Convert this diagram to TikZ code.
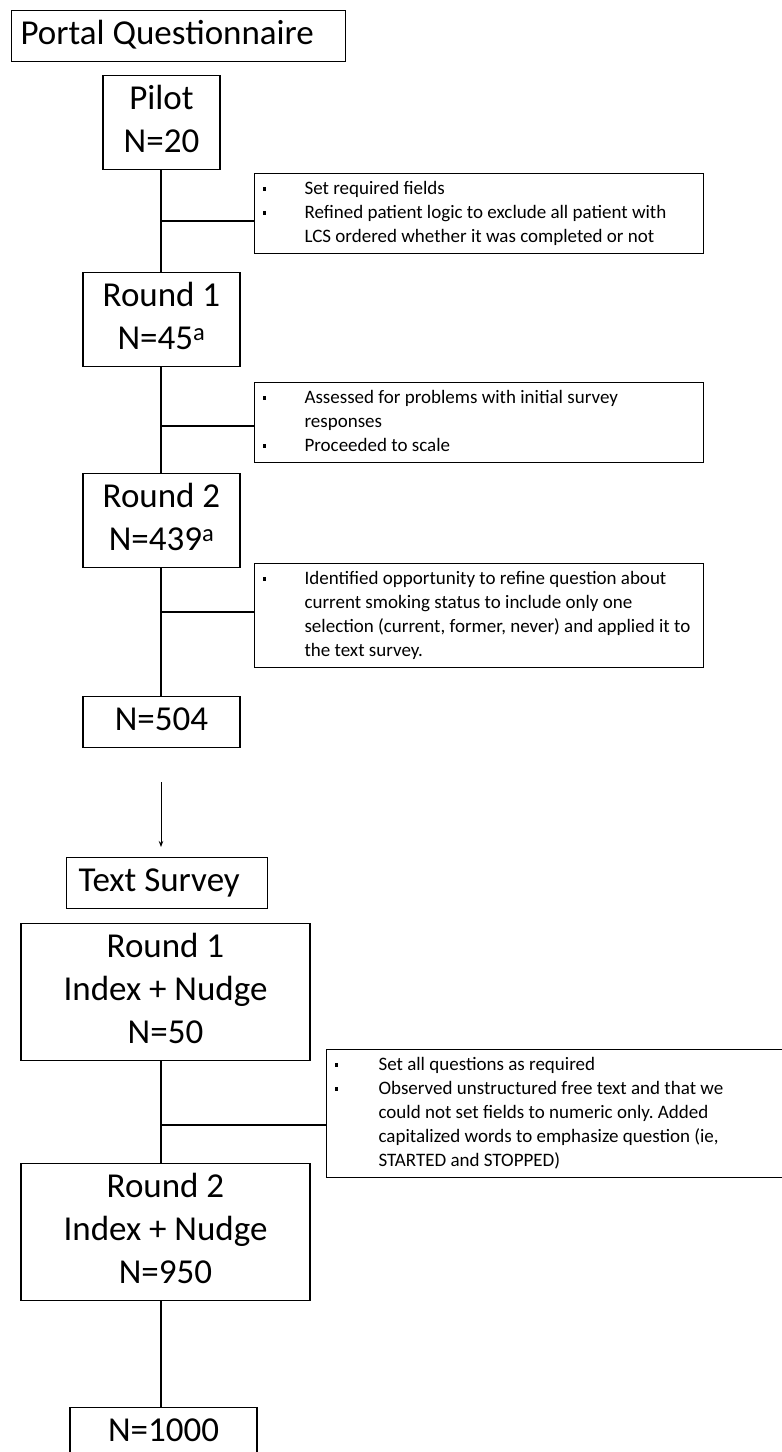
\documentclass[tikz,border=0pt]{standalone}
\usepackage{fontspec}
\setmainfont{Carlito}
\usetikzlibrary{arrows.meta}
\frenchspacing
\newcommand{\bul}{\hspace*{8pt}\raisebox{0.2em}{\rule{3.2pt}{3.2pt}}}
\newcommand{\bigfnt}{\fontsize{35}{43}\selectfont}
\newcommand{\smallfnt}{\fontsize{19}{24}\selectfont\frenchspacing}
\newcommand{\notebody}[3]{\makebox[#1][l]{\begin{tabular}{@{}p{#2}@{}l@{}}#3\end{tabular}}}
\begin{document}
\begin{tikzpicture}[x=1pt,y=-1pt,
  box/.style={draw, line width=1.1pt, inner xsep=0pt, inner ysep=4pt, font=\bigfnt, align=center, anchor=north},
  titlebox/.style={draw, line width=1.1pt, inner xsep=0pt, inner ysep=4pt, font=\bigfnt, anchor=north west},
  notebox/.style={draw, line width=1.1pt, inner xsep=0pt, inner ysep=4pt, font=\smallfnt, anchor=north west},
  conn/.style={line width=1.1pt},
  arr/.style={line width=0.9pt, -{Stealth[length=6pt,width=4.5pt]}}]
\useasboundingbox (0,0) rectangle (782,1452);

% titles
\node[titlebox] (portal) at (11,10) {\makebox[334pt][l]{\hspace*{9pt}\strut Portal Questionnaire}};
\node[titlebox] (text) at (66,857) {\makebox[201pt][l]{\hspace*{12pt}\strut Text Survey}};

% portal boxes
\node[box, minimum width=117pt] (pilot) at (161.5,75) {\strut Pilot\\\strut N=20};
\node[box, minimum width=157pt] (r1) at (161.5,272) {\strut Round 1\\\strut N=45\textsuperscript{a}};
\node[box, minimum width=157pt] (r2) at (161.5,473) {\strut Round 2\\\strut N=439\textsuperscript{a}};
\node[box, minimum width=157pt] (n504) at (161.5,696) {\strut N=504};

% text survey boxes
\node[box, minimum width=289pt] (t1) at (165.5,923) {\strut Round 1\\\strut Index + Nudge\\\strut N=50};
\node[box, minimum width=289pt] (t2) at (165.5,1163) {\strut Round 2\\\strut Index + Nudge\\\strut N=950};
\node[box, minimum width=187pt] (n1000) at (163.5,1407) {\strut N=1000};

% notes
\node[notebox] (note1) at (254,173) {\notebody{449pt}{50pt}{%
\bul & Set required fields\\
\bul & Refined patient logic to exclude all patient with\\
 & LCS ordered whether it was completed or not}};
\node[notebox] (note2) at (254,382) {\notebody{449pt}{50pt}{%
\bul & Assessed for problems with initial survey\\
 & responses\\
\bul & Proceeded to scale}};
\node[notebox] (note3) at (254,563) {\notebody{449pt}{50pt}{%
\bul & Identified opportunity to refine question about\\
 & current smoking status to include only one\\
 & selection (current, former, never) and applied it to\\
 & the text survey.}};
\node[notebox] (note4) at (326,1049) {\notebody{480pt}{52pt}{%
\bul & Set all questions as required\\
\bul & Observed unstructured free text and that we\\
 & could not set fields to numeric only. Added\\
 & capitalized words to emphasize question (ie,\\
 & STARTED and STOPPED)}};

% spine coordinates
\coordinate (sp) at (161,0);
\coordinate (b1) at (161,221);
\coordinate (b2) at (161,426);
\coordinate (b3) at (161,612);
\coordinate (b4) at (161,1125);
\coordinate (a1) at (161,782);
\coordinate (a2) at (161,847);

% connectors
\draw[conn] (pilot.south -| sp) -- (r1.north -| sp);
\draw[conn] (r1.south -| sp) -- (r2.north -| sp);
\draw[conn] (r2.south -| sp) -- (n504.north -| sp);
\draw[conn] (b1) -- (b1 -| note1.west);
\draw[conn] (b2) -- (b2 -| note2.west);
\draw[conn] (b3) -- (b3 -| note3.west);
\draw[arr] (a1) -- (a2);
\draw[conn] (t1.south -| sp) -- (t2.north -| sp);
\draw[conn] (b4) -- (b4 -| note4.west);
\draw[conn] (t2.south -| sp) -- (n1000.north -| sp);
\end{tikzpicture}
\end{document}
